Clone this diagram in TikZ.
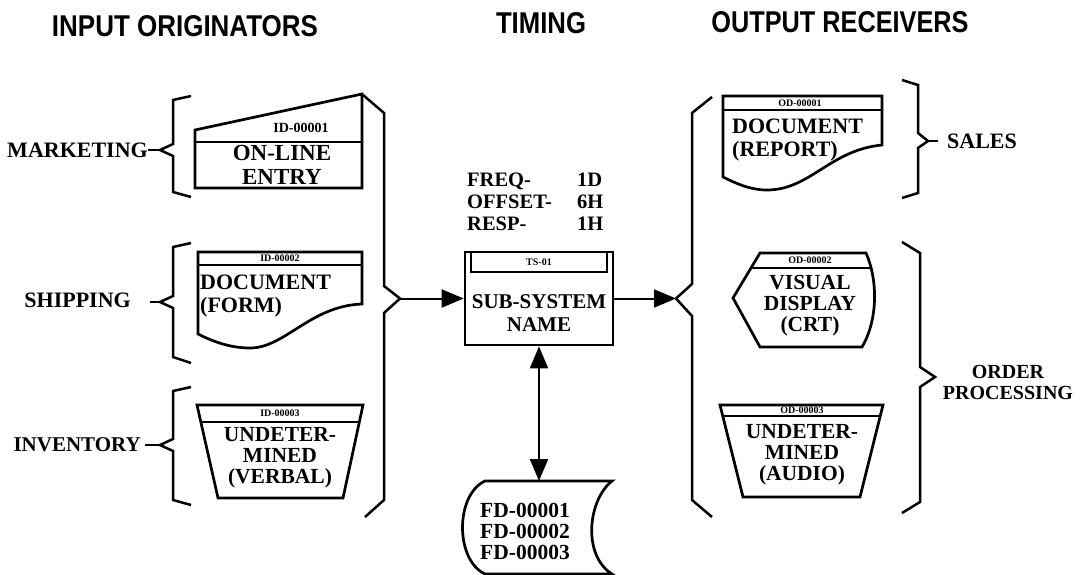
\documentclass[tikz,border=0pt]{standalone}
\usepackage{fontspec}
\setmainfont{Liberation Serif}
\newfontfamily\titlefont{Liberation Sans}
\usetikzlibrary{arrows.meta}
\newcommand{\ttl}[2]{\resizebox{#1}{21pt}{\titlefont\bfseries #2}}
\tikzset{
  lbl/.style={font=\bfseries\fontsize{22}{22}\selectfont, align=center, inner sep=0pt},
  boxtxt/.style={font=\bfseries\fontsize{22}{23}\selectfont, align=center, inner sep=0pt},
  tri/.style={font=\bfseries\fontsize{21.5}{21}\selectfont, align=center, inner sep=0pt},
  idl/.style={font=\bfseries\fontsize{10}{11}\selectfont, inner sep=0pt},
  shp/.style={draw, line width=2.7pt, line join=miter},
  band/.style={draw, line width=2.2pt},
  brc/.style={draw, line width=2.5pt, line join=miter},
  conn/.style={line width=2pt, -{Triangle[length=22pt,width=18pt]}},
  conn2/.style={line width=2pt, {Triangle[length=22pt,width=18pt]}-{Triangle[length=22pt,width=18pt]}},
  titlenode/.style={inner sep=0pt}
}
\begin{document}
\begin{tikzpicture}[x=1pt,y=-1pt]
\useasboundingbox (0,0) rectangle (1088,575);

% column titles
\node[titlenode] (t1) at (185,26) {\ttl{266pt}{INPUT ORIGINATORS}};
\node[titlenode] (t2) at (541,23) {\ttl{90pt}{TIMING}};
\node[titlenode] (t3) at (840,22) {\ttl{257pt}{OUTPUT RECEIVERS}};

% ---------- input originators ----------
\node[lbl, anchor=east] (mkt) at (148,150) {MARKETING};
\node[lbl, anchor=east] (shp) at (131,300) {SHIPPING};
\node[lbl, anchor=east, font=\bfseries\fontsize{21}{22}\selectfont] (inv) at (141,445) {INVENTORY};

\coordinate (mktip) at (160,150);
\coordinate (mkstub) at (148,150);
\draw[brc] (191,96) -- (173,100) -- (173,144) -- (mktip) -- (173,156) -- (173,192) -- (191,197);
\draw[brc] (mktip) -- (mkstub);

\coordinate (shtip) at (160,302);
\coordinate (shstub) at (150,302);
\draw[brc] (191,243) -- (173,247) -- (173,296) -- (shtip) -- (173,308) -- (173,357) -- (191,363);
\draw[brc] (shtip) -- (shstub);

\coordinate (ivtip) at (160,445);
\coordinate (ivstub) at (145,445);
\draw[brc] (191,387) -- (173,391) -- (173,439) -- (ivtip) -- (173,451) -- (173,500) -- (191,505);
\draw[brc] (ivtip) -- (ivstub);

% on-line entry
\draw[shp] (195,130) -- (362,94) -- (362,188) -- (195,188) -- cycle;
\draw[band] (195,142) -- (362,142);
\node[font=\bfseries\fontsize{14}{15}\selectfont, inner sep=0pt] (id1) at (301,128) {ID-00001};
\node[boxtxt, font=\bfseries\fontsize{23}{24}\selectfont] (b1) at (282,165) {ON-LINE\\ENTRY};

% document (form)
\draw[shp] (198,252) -- (362,252) -- (362,304)
  .. controls (310,306) and (285,348) .. (250,348)
  .. controls (228,348) and (210,340) .. (198,334) -- cycle;
\draw[band] (198,265) -- (362,265);
\node[idl] (id2) at (280,258.5) {ID-00002};
\node[boxtxt, align=left, anchor=north west] (b2) at (200,275) {DOCUMENT\\(FORM)};

% undetermined (verbal)
\draw[shp] (197,405) -- (363,405) -- (343,498) -- (218,498) -- cycle;
\draw[band] (201,422) -- (359,422);
\node[idl] (id3) at (280,413.5) {ID-00003};
\node[tri] (b3) at (280,458) {UNDETER-\\MINED\\(VERBAL)};

% collecting brace
\coordinate (ltip) at (400,298.5);
\draw[brc] (363,95) -- (384,113) -- (384,286) -- (ltip) -- (384,313) -- (384,500) -- (365,517);

% ---------- timing ----------
\node[lbl, anchor=north west, align=left, font=\bfseries\fontsize{20.5}{22}\selectfont] (tl) at (467,173) {FREQ-\\OFFSET-\\RESP-};
\node[lbl, anchor=north west, align=left, font=\bfseries\fontsize{20.5}{22}\selectfont] (tv) at (577,173) {1D\\6H\\1H};

\node[draw, line width=2.7pt, minimum width=148pt, minimum height=93pt, inner sep=0pt] (sub) at (539,298.5) {};
\draw[band] (471,252) -- (471,272) -- (607,272) -- (607,252);
\node[idl] (ts) at (539,262) {TS-01};
\node[boxtxt, font=\bfseries\fontsize{21}{23}\selectfont] (subt) at (539,313) {SUB-SYSTEM\\NAME};

% stored data
\draw[shp] (485,481) -- (612,481)
  .. controls (588,500) and (582,555) .. (612,574) -- (485,574)
  .. controls (455,560) and (455,495) .. (485,481) -- cycle;
\coordinate (fdtop) at (539,481);
\node[tri] (fd) at (525,531) {FD-00001\\FD-00002\\FD-00003};

% ---------- output receivers ----------
\coordinate (rtip) at (676,298.5);
\draw[brc] (712,97) -- (692,113) -- (692,284) -- (rtip) -- (692,316) -- (692,500) -- (712,517);

% document (report)
\draw[shp] (723,96) -- (882,96) -- (882,145)
  .. controls (830,150) and (810,190) .. (767,190)
  .. controls (750,190) and (735,183) .. (723,177) -- cycle;
\draw[band] (723,110) -- (882,110);
\node[idl] (od1) at (800,103) {OD-00001};
\node[boxtxt, align=left, anchor=north west] (r1) at (732,119) {DOCUMENT\\(REPORT)};

% visual display
\draw[shp] (760,253) -- (866,253)
  .. controls (878,280) and (878,320) .. (862,347) -- (760,347) -- (733,298) -- cycle;
\draw[band] (751,268) -- (870,268);
\node[idl] (od2) at (810,260.5) {OD-00002};
\node[tri] (r2) at (810,306) {VISUAL\\DISPLAY\\(CRT)};

% undetermined (audio)
\draw[shp] (720,405) -- (883,405) -- (860,497) -- (743,497) -- cycle;
\draw[band] (723,416) -- (880,416);
\node[idl] (od3) at (802,410.5) {OD-00003};
\node[tri] (r3) at (802,455) {UNDETER-\\MINED\\(AUDIO)};

% receiver braces
\coordinate (satip) at (928,141);
\coordinate (sastub) at (938,141);
\draw[brc] (902,80) -- (918,85) -- (918,133) -- (satip) -- (918,148) -- (918,193) -- (902,198);
\draw[brc] (satip) -- (sastub);
\node[lbl, anchor=west] (sales) at (947,141) {SALES};

\coordinate (ortip) at (935,377);
\draw[brc] (902,242) -- (920,253) -- (920,367) -- (ortip) -- (920,387) -- (920,502) -- (902,513);
\node[lbl, font=\bfseries\fontsize{20}{21}\selectfont] (order) at (1008,382) {ORDER\\PROCESSING};

% ---------- connectors ----------
\draw[conn] (ltip) -- (sub.west);
\draw[conn] (sub.east) -- (rtip);
\draw[conn2] (sub.south) -- (fdtop);
\end{tikzpicture}
\end{document}
